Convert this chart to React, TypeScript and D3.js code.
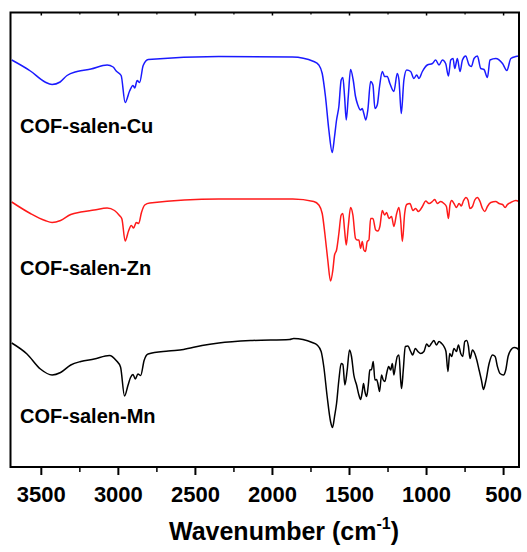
import React from "react";
import * as d3 from "d3";

const majorTicks = [3500, 3000, 2500, 2000, 1500, 1000, 500];
const minorTicks = [3750, 3250, 2750, 2250, 1750, 1250, 750];

const seriesNames = ["COF-salen-Cu", "COF-salen-Zn", "COF-salen-Mn"];
const seriesColors = ["#1a1aff", "#ff1a1a", "#000000"];

// wavenumber (cm-1)
const cuWave = [3692,3571,3476,3430,3378,3333,3268,3178,3073,3034,3014,2982,2956,2927,2905,2894,2878,2862,2839,2806,2348,1870,1732,1699,1677,1656,1634,1612,1597,1584,1569,1554,1543,1532,1521,1508,1493,1476,1461,1446,1428,1417,1407,1394,1381,1363,1348,1335,1320,1305,1287,1272,1255,1238,1212,1190,1179,1164,1147,1129,1103,1082,1064,1049,1027,995,962,941,919,897,876,858,843,828,817,800,783,767,746,724,709,692,670,648,627,605,588,551,507,479,453,421,400];
const cuT = [81.4,79.2,77.0,76.5,77.0,78.3,79.1,79.6,80.4,80.0,79.2,78.3,72.9,75.2,76.3,75.8,77.3,76.9,80.3,81.5,82.1,82.0,81.1,80.4,78.7,74.1,67.4,62.9,66.1,69.4,72.1,77.4,77.9,74.1,69.4,74.1,79.5,77.4,74.1,72.4,71.4,71.7,70.7,69.4,71.4,77.1,76.4,71.7,72.4,76.1,79.1,78.1,78.1,76.7,75.1,78.7,77.4,70.7,77.4,79.4,79.1,77.7,78.4,77.7,79.1,80.4,80.7,81.4,80.4,81.4,80.7,78.2,81.4,81.7,79.7,81.7,79.1,81.4,82.2,80.4,80.1,81.7,82.2,79.7,79.5,77.9,81.4,81.7,80.7,79.3,81.7,82.1,82.2];

const znWave = [3692,3571,3476,3430,3375,3309,3244,3157,3073,3025,2993,2977,2956,2934,2916,2901,2884,2868,2850,2829,2796,2348,1868,1732,1699,1677,1660,1641,1623,1608,1597,1584,1569,1554,1543,1532,1521,1508,1493,1478,1461,1450,1439,1428,1417,1407,1396,1385,1374,1363,1348,1330,1316,1303,1287,1272,1259,1244,1227,1212,1194,1179,1168,1157,1142,1129,1108,1088,1071,1053,1027,1006,984,962,947,930,908,887,871,858,848,837,822,806,789,774,761,744,731,718,702,687,670,653,637,622,605,583,551,529,507,490,475,453,421,400];
const znT = [53.0,50.7,49.3,48.9,49.3,50.5,51.0,51.4,51.8,51.3,50.3,49.6,45.2,47.2,48.3,47.8,48.9,48.7,50.9,52.4,52.8,53.6,53.6,53.1,52.4,50.7,46.7,41.4,37.2,39.4,42.4,43.4,46.7,50.4,50.7,47.4,44.4,48.1,51.9,50.4,45.7,45.4,45.4,43.7,45.1,43.4,43.1,45.1,45.4,49.7,49.7,47.4,47.2,48.1,51.3,50.4,50.9,49.7,50.1,48.1,50.7,51.9,49.4,45.1,50.7,52.5,52.7,51.3,51.7,51.1,52.1,53.2,52.7,53.1,53.5,52.7,53.1,52.7,52.1,49.7,52.4,53.3,52.7,51.9,52.7,52.2,53.2,53.9,53.4,51.7,52.1,53.4,53.9,53.1,51.7,51.1,52.1,52.9,53.1,52.7,52.5,51.9,52.5,52.9,53.3,53.1];

const mnWave = [3692,3593,3506,3430,3375,3309,3244,3157,3058,3014,2986,2960,2938,2921,2905,2890,2873,2855,2833,2807,2676,2577,2457,2348,2130,1889,1862,1742,1710,1684,1667,1645,1623,1610,1597,1584,1569,1554,1543,1530,1515,1500,1487,1472,1454,1439,1428,1417,1409,1400,1389,1378,1368,1357,1346,1335,1324,1316,1305,1292,1281,1270,1259,1246,1233,1222,1212,1201,1190,1179,1168,1162,1151,1138,1121,1103,1090,1073,1056,1038,1017,999,984,969,952,936,919,902,887,874,861,850,837,822,806,793,778,765,752,739,728,718,702,687,674,659,644,631,616,594,572,555,540,523,501,486,471,453,432,410,400];
const mnT = [24.8,22.6,19.6,18.4,18.9,20.4,21.1,21.6,22.3,21.3,20.0,14.2,16.3,17.9,18.5,17.6,18.6,18.3,21.3,22.6,23.2,23.5,24.3,24.8,25.3,25.5,25.7,24.9,24.4,23.1,20.1,14.1,9.1,7.9,10.1,12.7,17.4,20.7,20.5,16.4,19.4,23.4,22.1,18.4,16.4,14.4,13.5,15.1,16.7,15.1,14.1,16.4,19.4,19.5,21.1,17.4,17.5,16.7,15.1,18.4,17.4,17.1,18.7,20.1,19.4,20.7,18.4,20.4,22.1,22.4,17.4,15.7,19.4,24.1,24.2,23.1,22.4,23.7,23.1,22.7,23.1,24.6,24.1,24.7,25.3,24.4,25.1,24.7,24.1,23.1,19.1,22.7,22.1,23.7,23.1,24.4,22.7,22.1,25.1,25.3,24.1,21.7,23.4,22.7,21.4,19.4,17.4,15.5,17.1,20.7,22.4,22.1,20.1,18.7,18.4,19.4,22.1,23.4,23.9,23.7,23.3];

const seriesWave = [cuWave, znWave, mnWave];
const seriesT = [cuT, znT, mnT];
const labelT = [66.8, 38.4, 8.8];

export default function App() {
  const W = 527, H = 552;
  const left = 10.5, right = 519, top = 12.5, bottom = 467;
  const x = d3.scaleLinear().domain([3700, 400]).range([left, right]);
  const y = d3.scaleLinear().domain([0, 90.9]).range([bottom, top]);
  const font = "'Liberation Sans', Arial, sans-serif";

  const paths = seriesWave.map((ws, i) => {
    const pts: [number, number][] = ws.map((w, j) => [x(w), y(seriesT[i][j])]);
    return d3.line().curve(d3.curveMonotoneX)(pts) || "";
  });

  return (
    <svg width={W} height={H} style={{ position: "absolute", left: 0, top: 0 }}>
      <rect x={0} y={0} width={W} height={H} fill="#fff" />
      {paths.map((d, i) => (
        <path key={i} d={d} fill="none" stroke={seriesColors[i]} strokeWidth={1.5} strokeLinejoin="round" />
      ))}
      {seriesNames.map((n, i) => (
        <text key={n} x={20} y={y(labelT[i])} fontFamily={font} fontWeight="bold" fontSize={20} fill="#000">{n}</text>
      ))}
      <rect x={left} y={top} width={right - left} height={bottom - top} fill="none" stroke="#000" strokeWidth={2} />
      {majorTicks.map((t) => (
        <g key={t}>
          <line x1={x(t)} x2={x(t)} y1={bottom} y2={bottom + 8} stroke="#000" strokeWidth={2} />
          <line x1={x(t)} x2={x(t)} y1={top} y2={top + 3} stroke="#000" strokeWidth={1.5} />
          <text x={x(t)} y={502} textAnchor="middle" fontFamily={font} fontWeight="bold" fontSize={22} fill="#000">{t}</text>
        </g>
      ))}
      {minorTicks.filter((t) => x(t) > left + 2 && x(t) < right - 2).map((t) => (
        <g key={t}>
          <line x1={x(t)} x2={x(t)} y1={bottom} y2={bottom + 5} stroke="#000" strokeWidth={1.5} />
          <line x1={x(t)} x2={x(t)} y1={top} y2={top + 2} stroke="#000" strokeWidth={1.2} />
        </g>
      ))}
      <text x={284} y={540} textAnchor="middle" fontFamily={font} fontWeight="bold" fontSize={25} fill="#000">
        Wavenumber (cm<tspan fontSize={16} dy={-11}>-1</tspan><tspan dy={11}>)</tspan>
      </text>
    </svg>
  );
}
